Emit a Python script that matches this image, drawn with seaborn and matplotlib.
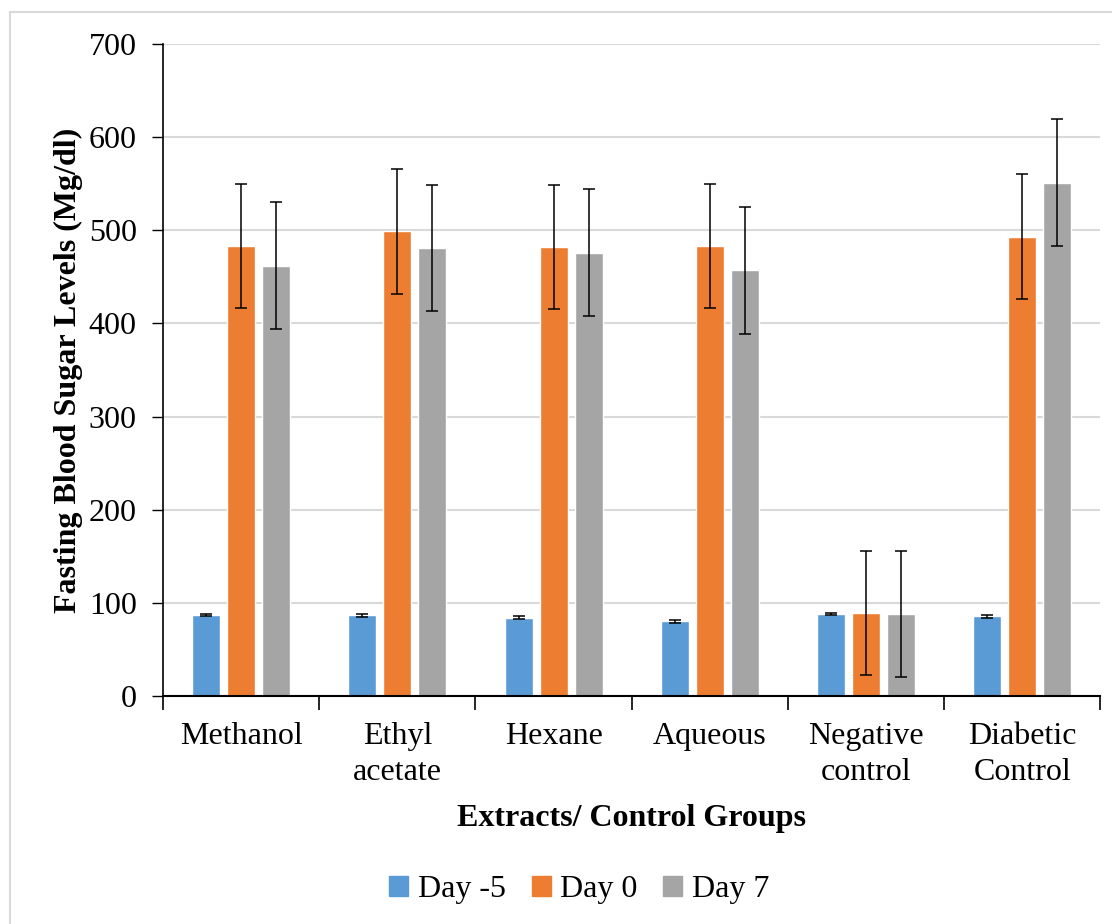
import numpy as np
import pandas as pd
import matplotlib
matplotlib.use('Agg')
import matplotlib.pyplot as plt
import seaborn as sns
from matplotlib.patches import Rectangle

groups = ['Methanol', 'Ethyl\nacetate', 'Hexane', 'Aqueous', 'Negative\ncontrol', 'Diabetic\nControl']
days = ['Day -5', 'Day 0', 'Day 7']
day_m5 = [87, 86.5, 84, 80, 88, 85.5]
day_0 = [483, 499, 482, 483, 89, 493]
day_7 = [462, 481, 476, 457, 88, 551]
err_m5 = [1.5, 1.5, 1.5, 1.5, 1.5, 1.5]
err_0 = [67, 67, 67, 67, 67, 67]
err_7 = [68, 68, 68, 68, 68, 68]
colors = ['#5B9BD5', '#ED7D31', '#A5A5A5']

df = pd.DataFrame({
    'Group': groups * 3,
    'Day': [d for d in days for _ in groups],
    'Value': day_m5 + day_0 + day_7,
})
errs = [err_m5, err_0, err_7]

sns.set_style('white')
plt.rcParams['font.family'] = ['Liberation Serif', 'DejaVu Serif']
plt.rcParams['text.color'] = 'black'
plt.rcParams['xtick.color'] = 'black'
plt.rcParams['ytick.color'] = 'black'
plt.rcParams['axes.labelcolor'] = 'black'

fig = plt.figure(figsize=(11.12, 9.24), dpi=100)
ax = fig.add_axes([0.1466, 0.2468, 0.8430, 0.7056])

sns.barplot(data=df, x='Group', y='Value', hue='Day', palette=colors,
            saturation=1, width=0.673, gap=0.2, errorbar=None, ax=ax, zorder=2)

# error bars on the bar centres
for cont, e in zip(ax.containers, errs):
    xs = [p.get_x() + p.get_width() / 2 for p in cont]
    hs = [p.get_height() for p in cont]
    ax.errorbar(xs, hs, yerr=e, fmt='none', ecolor='black', elinewidth=1.1,
                capsize=4.5, capthick=1.1, zorder=3)

ax.set_ylim(0, 700)
ax.set_xlim(-0.5, 5.5)
ax.set_yticks(range(0, 701, 100))
ax.yaxis.grid(True, color='#D9D9D9', linewidth=1.5, zorder=0)
ax.set_axisbelow(True)
for s in ['top', 'right']:
    ax.spines[s].set_visible(False)
ax.spines['left'].set_color('black')
ax.spines['bottom'].set_color('black')
ax.spines['left'].set_linewidth(1.2)
ax.spines['bottom'].set_linewidth(1.5)

ax.tick_params(axis='y', which='major', left=True, length=8, width=1, labelsize=23, pad=11)
ax.tick_params(axis='x', which='major', bottom=False, labelsize=23, pad=15)
ax.set_xticks(np.arange(-0.5, 6, 1), minor=True)
ax.tick_params(axis='x', which='minor', bottom=True, length=10, width=1.2)
for lab in ax.get_xticklabels():
    lab.set_linespacing(1.35)

ax.set_xlabel('Extracts/ Control Groups', fontsize=23, fontweight='bold', labelpad=12)
ax.set_ylabel('Fasting Blood Sugar Levels (Mg/dl)', fontsize=23, fontweight='bold', labelpad=4)

ax.legend_.remove()
handles = [Rectangle((0, 0), 1, 1, color=c) for c in colors]
fig.legend(handles, days, loc='center', bbox_to_anchor=(0.521, 0.037), ncol=3,
           frameon=False, fontsize=23, handlelength=0.6, handleheight=0.6,
           handletextpad=0.3, columnspacing=0.8)

fig.patches.append(Rectangle((10 / 1112, -0.1), 1.5, 1 - 12 / 924 + 0.1,
                             transform=fig.transFigure, fill=False,
                             edgecolor='#D9D9D9', linewidth=1.5))

fig.savefig('out.png', dpi=100)
